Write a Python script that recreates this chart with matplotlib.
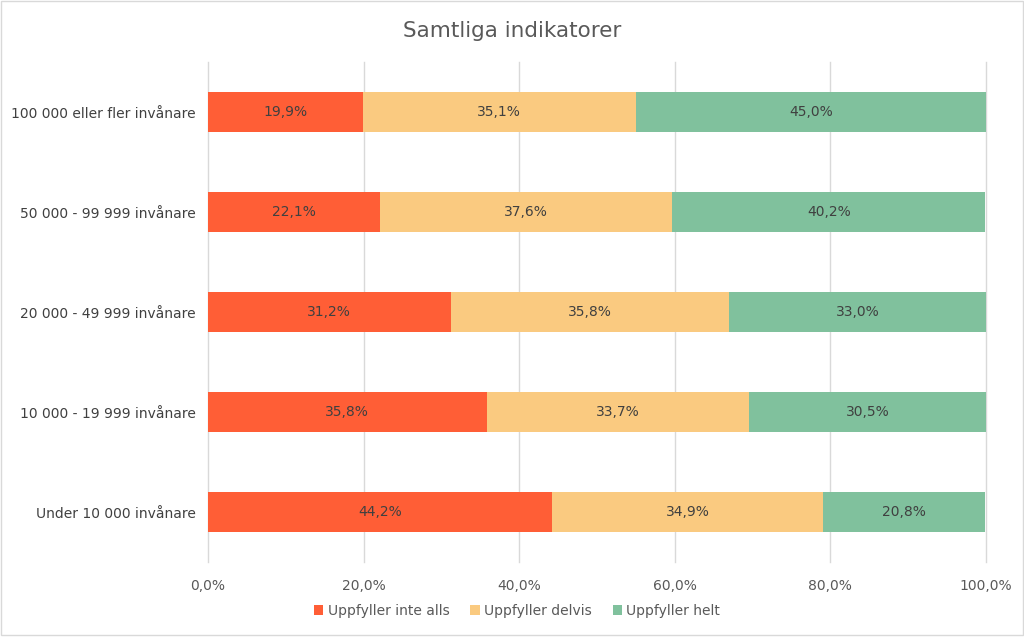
import numpy as np
import matplotlib.pyplot as plt
from matplotlib.patches import Rectangle

categories = ['100 000 eller fler invånare', '50 000 - 99 999 invånare', '20 000 - 49 999 invånare',
              '10 000 - 19 999 invånare', 'Under 10 000 invånare']
inte_alls = [19.9, 22.1, 31.2, 35.8, 44.2]
delvis = [35.1, 37.6, 35.8, 33.7, 34.9]
helt = [45.0, 40.2, 33.0, 30.5, 20.8]

series = [('Uppfyller inte alls', inte_alls, '#FF5E36'),
          ('Uppfyller delvis', delvis, '#FACA80'),
          ('Uppfyller helt', helt, '#80C19D')]

plt.rcParams['font.family'] = ['DejaVu Sans']

fig = plt.figure(figsize=(10.24, 6.38), dpi=100)
ax = fig.add_axes([208 / 1024, 1 - 562 / 638, (986 - 208) / 1024, 500 / 638])

y = np.arange(len(categories))
left = np.zeros(len(categories))
for name, vals, color in series:
    vals = np.array(vals)
    ax.barh(y, vals, left=left, height=0.4, color=color, label=name, zorder=2)
    for yi, l, v in zip(y, left, vals):
        ax.text(l + v / 2, yi, f'{v:.1f}%'.replace('.', ','), ha='center', va='center',
                fontsize=10, color='#404040', zorder=3)
    left += vals

ax.set_xlim(0, 100)
ax.set_ylim(4.5, -0.5)
ax.set_yticks(y)
ax.set_yticklabels(categories, fontsize=10, color='#404040')
ax.set_xticks(np.arange(0, 101, 20))
ax.set_xticklabels([f'{v:.1f}%'.replace('.', ',') for v in range(0, 101, 20)], fontsize=10, color='#595959')
ax.tick_params(length=0, pad=12)
ax.tick_params(axis='y', pad=9)
ax.grid(axis='x', color='#D9D9D9', linewidth=1, zorder=0)
for gl in ax.get_xgridlines():
    gl.set_clip_on(False)
for s in ax.spines.values():
    s.set_visible(False)

fig.suptitle('Samtliga indikatorer', y=1 - 31 / 638, va='center', fontsize=15.5, color='#595959')

fig.legend(loc='center', bbox_to_anchor=(517 / 1024, 1 - 611 / 638), ncol=3, frameon=False,
           fontsize=10, handlelength=0.7, handleheight=0.7, handletextpad=0.3, columnspacing=1.5,
           labelcolor='#595959')

fig.patches.append(Rectangle((0.001, 0.004), 0.998, 0.994, transform=fig.transFigure,
                             fill=False, edgecolor='#D9D9D9', linewidth=1))

fig.savefig('out.png', dpi=100)
